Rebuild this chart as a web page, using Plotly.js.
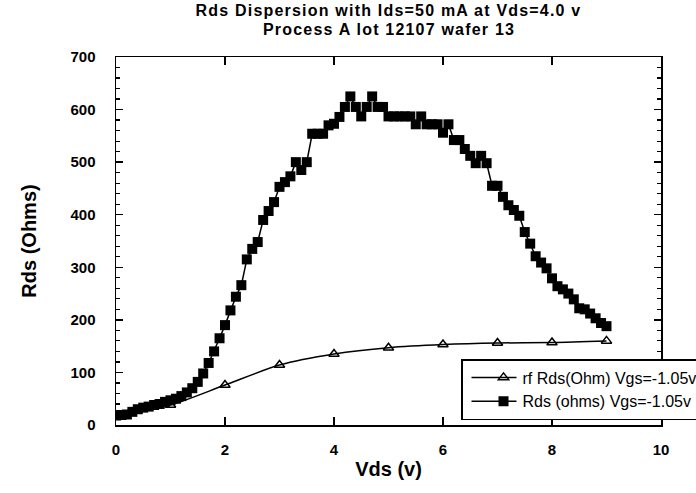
<!DOCTYPE html>
<html>
<head>
<meta charset="utf-8">
<script src="https://cdn.plot.ly/plotly-3.0.1.min.js"></script>
<style>
html,body{margin:0;padding:0;background:#fff;}
#chart{width:696px;height:493px;}
.gtitle, .annotation-text{letter-spacing:1.2px;}
</style>
</head>
<body>
<div id="chart"></div>
<script>
// rf Rds (Ohm) Vgs=-1.05v
const rfVds = [0, 1, 2, 3, 4, 5, 6, 7, 8, 9];
const rfRds = [18, 38, 76, 114, 135, 147, 153, 156, 157, 160];

// Rds (ohms) Vgs=-1.05v
const dcVds = [
  0.0, 0.1, 0.2, 0.3, 0.4, 0.5, 0.6, 0.7, 0.8, 0.9,
  1.0, 1.1, 1.2, 1.3, 1.4, 1.5, 1.6, 1.7, 1.8, 1.9,
  2.0, 2.1, 2.2, 2.3, 2.4, 2.5, 2.6, 2.7, 2.8, 2.9,
  3.0, 3.1, 3.2, 3.3, 3.4, 3.5, 3.6, 3.7, 3.8, 3.9,
  4.0, 4.1, 4.2, 4.3, 4.4, 4.5, 4.6, 4.7, 4.8, 4.9,
  5.0, 5.1, 5.2, 5.3, 5.4, 5.5, 5.6, 5.7, 5.8, 5.9,
  6.0, 6.1, 6.2, 6.3, 6.4, 6.5, 6.6, 6.7, 6.8, 6.9,
  7.0, 7.1, 7.2, 7.3, 7.4, 7.5, 7.6, 7.7, 7.8, 7.9,
  8.0, 8.1, 8.2, 8.3, 8.4, 8.5, 8.6, 8.7, 8.8, 8.9,
  9.0
];
const dcRds = [
  18, 19, 20, 25, 30, 33, 35, 38, 40, 44,
  47, 50, 55, 62, 70, 82, 98, 118, 140, 165,
  190, 218, 244, 266, 315, 335, 348, 390, 407, 424,
  453, 462, 473, 500, 485, 500, 554, 554, 554, 570,
  573, 586, 605, 625, 605, 587, 605, 625, 605, 605,
  587, 587, 587, 587, 587, 572, 587, 572, 572, 572,
  556, 572, 542, 542, 525, 512, 498, 512, 498, 455,
  455, 434, 418, 409, 398, 367, 345, 321, 309, 298,
  279, 264, 258, 250, 239, 222, 220, 212, 203, 194,
  188
];

const xTicks = [0, 2, 4, 6, 8, 10];
const yTicks = [0, 100, 200, 300, 400, 500, 600, 700];
const titleLines = ['Rds Dispersion with Ids=50 mA at Vds=4.0 v', 'Process A lot 12107 wafer 13'];

const FONT = "'Liberation Sans', Arial, Helvetica, sans-serif";

const traces = [
  {
    x: rfVds, y: rfRds, type: 'scatter', mode: 'lines+markers',
    name: 'rf Rds(Ohm) Vgs=-1.05v',
    line: {color: '#000', width: 1.5, shape: 'spline', smoothing: 0.8},
    marker: {symbol: 'triangle-up-open', size: 9, color: '#000', line: {width: 1.5, color: '#000'}}
  },
  {
    x: dcVds, y: dcRds, type: 'scatter', mode: 'lines+markers',
    name: 'Rds (ohms) Vgs=-1.05v',
    line: {color: '#000', width: 1.5},
    marker: {symbol: 'square', size: 10, color: '#000'}
  }
];

const axisCommon = {
  showline: true, linecolor: '#000', linewidth: 1.5, mirror: 'allticks',
  ticks: 'inside', tickcolor: '#000', tickwidth: 1.5,
  showgrid: false, zeroline: false,
  tickfont: {family: FONT, size: 15, color: '#000', weight: 'bold'}
};

const layout = {
  width: 696, height: 493,
  margin: {l: 116, r: 35, t: 57, b: 68, autoexpand: false},
  paper_bgcolor: '#fff', plot_bgcolor: '#fff',
  font: {family: FONT, color: '#000'},
  title: {
    text: titleLines[0],
    font: {family: FONT, size: 16, color: '#000', weight: 'bold'},
    x: 0.5, xref: 'paper', xanchor: 'center',
    yref: 'container', y: 1 - 10.5 / 493, yanchor: 'middle'
  },
  annotations: [{
    text: titleLines[1], showarrow: false,
    xref: 'paper', x: 0.5, xanchor: 'center',
    yref: 'paper', y: 1 + (57 - 29.5) / 368, yanchor: 'middle',
    font: {family: FONT, size: 16, color: '#000', weight: 'bold'}
  }],
  shapes: [{
    type: 'line', xref: 'paper', yref: 'paper',
    x0: (462 - 116) / 545, x1: 1.2, y0: (425 - 413) / 368, y1: (425 - 413) / 368,
    line: {color: '#000', width: 3}
  }],
  xaxis: Object.assign({}, axisCommon, {
    range: [0, 10], tickvals: xTicks, ticktext: xTicks.map(String), ticklen: 8,
    ticklabelstandoff: 10,
    title: {text: 'Vds (v)', font: {family: FONT, size: 20, color: '#000', weight: 'bold'}, standoff: 5}
  }),
  yaxis: Object.assign({}, axisCommon, {
    range: [0, 700], tickvals: yTicks, ticktext: yTicks.map(String), ticklen: 7,
    ticklabelstandoff: 16,
    minor: {dtick: 20, ticks: 'inside', ticklen: 4, tickcolor: '#000', tickwidth: 1.2},
    title: {text: 'Rds (Ohms)', font: {family: FONT, size: 20, color: '#000', weight: 'bold'}, standoff: 28}
  }),
  showlegend: true,
  legend: {
    x: (461 - 116) / 545, xanchor: 'left', y: (425 - 359) / 368, yanchor: 'top',
    bgcolor: '#fff', bordercolor: '#000', borderwidth: 1.5,
    font: {family: FONT, size: 16, color: '#000'},
    itemwidth: 50, tracegroupgap: 0
  }
};

Plotly.newPlot('chart', traces, layout, {displayModeBar: false, staticPlot: true}).then(function (gd) {
  // lengthen the legend sample lines and centre their markers, as in the reference
  gd.querySelectorAll('.legend .legendlines path').forEach(function (p) {
    p.setAttribute('d', 'M9,0h45');
  });
  gd.querySelectorAll('.legend .legendpoints path').forEach(function (p) {
    const t = p.getAttribute('transform') || '';
    const m = /translate\(([-\d.]+)[ ,]+([-\d.]+)\)/.exec(t);
    const x = m ? parseFloat(m[1]) : 20;
    const y = m ? parseFloat(m[2]) : 0;
    p.setAttribute('transform', 'translate(' + (x + 11) + ',' + y + ')');
  });
});
</script>
</body>
</html>
